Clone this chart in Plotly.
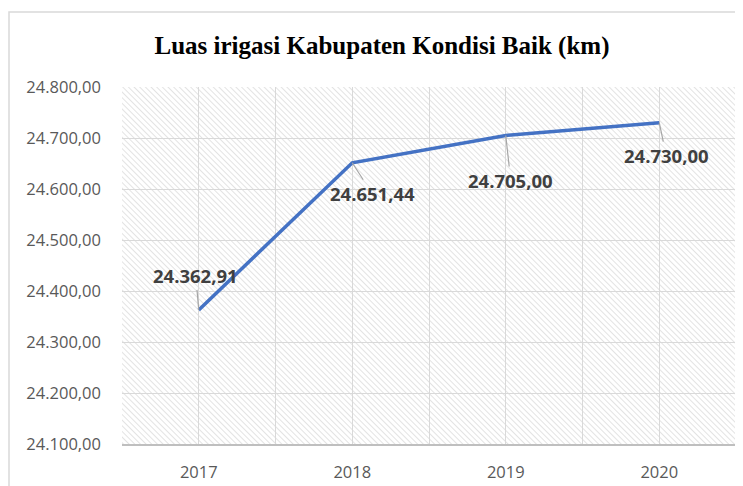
import base64
import plotly.graph_objects as go

years = ["2017", "2018", "2019", "2020"]
values = [24362.91, 24651.44, 24705.00, 24730.00]
value_labels = ["24.362,91", "24.651,44", "24.705,00", "24.730,00"]
label_offsets_x = [-3, 20, 5, 7]
label_offsets_y = [-34, 31, 45, 33]
y_ticks = [24100, 24200, 24300, 24400, 24500, 24600, 24700, 24800]

# page body has an 8px offset; positions below are in figure pixels
W, H = 743, 486
ml, mt = 114, 79
pw, ph = 614, 357
mr, mb = W - ml - pw, H - mt - ph

svg = f'''<svg xmlns="http://www.w3.org/2000/svg" width="{pw}" height="{ph}" viewBox="0 0 {pw} {ph}" preserveAspectRatio="none">
<defs><pattern id="h" width="4" height="4" patternUnits="userSpaceOnUse" patternTransform="rotate(-45)">
<line x1="0" y1="-2" x2="0" y2="6" stroke="#d4d4d4" stroke-width="1.3"/></pattern></defs>
<rect width="100%" height="100%" fill="#ffffff"/><rect width="100%" height="100%" fill="url(#h)"/></svg>'''
uri = "data:image/svg+xml;base64," + base64.b64encode(svg.encode()).decode()

xs = list(range(len(years)))
fig = go.Figure()
fig.add_trace(go.Scatter(x=xs, y=values, mode="lines",
                         line=dict(color="#4472C4", width=3.5), hoverinfo="skip"))

for i, (v, lab) in enumerate(zip(values, value_labels)):
    fig.add_annotation(x=xs[i], y=v, text=f"<b>{lab}</b>", showarrow=True,
                       arrowhead=0, arrowwidth=1.2, arrowcolor="#a6a6a6",
                       ax=label_offsets_x[i], ay=label_offsets_y[i],
                       font=dict(family="Open Sans", size=18.5, color="#404040"))

fig.add_layout_image(source=uri, xref="paper", yref="paper", x=0, y=1,
                     sizex=1, sizey=1, xanchor="left", yanchor="top",
                     sizing="stretch", layer="below")

# outer chart border
fig.add_shape(type="rect", xref="paper", yref="paper",
              x0=(1 - ml) / pw, x1=(W + 20 - ml) / pw,
              y0=-(mb + 20) / ph, y1=(ph + mt - 4) / ph,
              line=dict(color="#d9d9d9", width=1.5), fillcolor="rgba(0,0,0,0)", layer="below")

fig.update_layout(
    width=W, height=H,
    margin=dict(l=ml, r=mr, t=mt, b=mb),
    paper_bgcolor="white", plot_bgcolor="rgba(0,0,0,0)",
    separators=",.",
    showlegend=False,
    title=dict(text="<b>Luas irigasi Kabupaten Kondisi Baik (km)</b>",
               x=374 / W, xref="container", xanchor="center",
               y=1 - 37 / H, yref="container", yanchor="middle",
               font=dict(family="Liberation Serif", size=25, color="#000000")),
    xaxis=dict(range=[-0.5, 3.5], tickmode="array", tickvals=xs, ticktext=years,
               showgrid=True, gridcolor="#d9d9d9", gridwidth=1,
               minor=dict(tickvals=[x - 0.5 for x in xs] + [len(xs) - 0.5],
                          showgrid=True, gridcolor="#d9d9d9", gridwidth=1, ticklen=0),
               zeroline=False, showline=True, linecolor="#bfbfbf", linewidth=1.5,
               ticks="", ticklabelstandoff=12,
               tickfont=dict(family="Open Sans", size=16.5, color="#595959")),
    yaxis=dict(range=[24100, 24800], tickmode="array", tickvals=y_ticks,
               tickformat=",.2f", showgrid=True, gridcolor="#d9d9d9", gridwidth=1,
               zeroline=False, showline=False, ticks="", ticklabelstandoff=20,
               tickfont=dict(family="Open Sans", size=16.5, color="#595959")),
)

fig.write_html("out.html")
